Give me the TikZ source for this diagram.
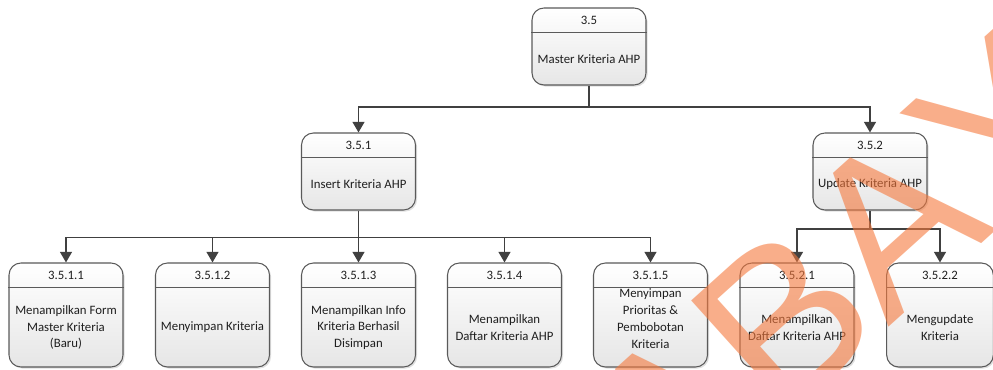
\documentclass[tikz,border=0pt]{standalone}
\usepackage{fontspec}
\setmainfont{Carlito}
\newfontfamily\wmfont[Kerning=Off]{Liberation Sans}
\usetikzlibrary{arrows.meta,shadows,calc}

\definecolor{linegray}{HTML}{404040}
\definecolor{boxedge}{HTML}{5A5A5A}
\definecolor{boxbottom}{HTML}{E6E6E6}
\definecolor{wmorange}{RGB}{245,120,60}

% process box: name, x, y (centre), style, number, label, label shift
\newcommand{\procnode}[7]{%
  \node[#4] (#1) at (#2,#3) {};
  \draw[divider] ([yshift=-18.75pt]#1.north west) -- ([yshift=-18.75pt]#1.north east);
  \node[idtext] (#1-id) at ([yshift=-9.4pt]#1.north) {#5};
  \node[bodytext] (#1-tx) at ($ ([yshift=#7]#1.south)!0.5!([yshift=#7-18.75pt]#1.north) $) {#6};
}

\begin{document}
\begin{tikzpicture}[x=0.75pt,y=-0.75pt,
  procbox/.style={draw=boxedge, line width=0.8pt, rounded corners=9pt,
    top color=white, bottom color=boxbottom, minimum width=85.5pt, inner sep=0pt,
    drop shadow={shadow xshift=1.2pt, shadow yshift=-1.2pt, opacity=0.25}},
  midbox/.style={procbox, minimum height=57.75pt},
  leafbox/.style={procbox, minimum height=78pt},
  divider/.style={draw=boxedge, line width=0.8pt},
  idtext/.style={font=\fontsize{9.6}{12}\selectfont, text=black!88},
  bodytext/.style={font=\fontsize{9.6}{12.6}\selectfont, align=center, text=black!88},
  wire/.style={draw=linegray, line width=1.1pt},
  conn/.style={wire, -{Triangle[width=9pt,length=8pt]}},
  wmtext/.style={font=\wmfont\fontsize{165}{165}\selectfont, text=wmorange,
    text opacity=0.6, rotate=42, inner sep=0pt},
]
\useasboundingbox (0,0) rectangle (993,370);

% levels
\procnode{p35}{589}{46.5}{midbox}{3.5}{Master Kriteria AHP}{0pt}
\procnode{p351}{358.5}{171.5}{midbox}{3.5.1}{Insert Kriteria AHP}{0pt}
\procnode{p352}{870}{171.5}{midbox}{3.5.2}{Update Kriteria AHP}{0pt}

\procnode{p3511}{66}{315}{leafbox}{3.5.1.1}{Menampilkan Form\\Master Kriteria\\(Baru)}{0pt}
\procnode{p3512}{212.5}{315}{leafbox}{3.5.1.2}{Menyimpan Kriteria}{0pt}
\procnode{p3513}{358.5}{315}{leafbox}{3.5.1.3}{Menampilkan Info\\Kriteria Berhasil\\Disimpan}{0pt}
\procnode{p3514}{504.5}{315}{leafbox}{3.5.1.4}{Menampilkan\\Daftar Kriteria AHP}{0pt}
\procnode{p3515}{650.5}{315}{leafbox}{3.5.1.5}{Menyimpan\\Prioritas \&\\Pembobotan\\Kriteria}{6.75pt}
\procnode{p3521}{797}{315}{leafbox}{3.5.2.1}{Menampilkan\\Daftar Kriteria AHP}{0pt}
\procnode{p3522}{940}{315}{leafbox, minimum width=80pt}{3.5.2.2}{Mengupdate\\Kriteria}{0pt}

% bus heights
\coordinate (busTop) at (0,107);
\coordinate (busLeft) at (0,237.5);
\coordinate (busRight) at (0,229);

% connectors
\draw[wire] (p35.south) -- (p35.south |- busTop);
\draw[conn] (p35.south |- busTop) -| (p351.north);
\draw[conn] (p35.south |- busTop) -| (p352.north);

\draw[wire] (p351.south) -- (p351.south |- busLeft);
\foreach \leaf in {p3511,p3512,p3513,p3514,p3515}
  \draw[conn] (p351.south |- busLeft) -| (\leaf.north);

\draw[wire] (p352.south) -- (p352.south |- busRight);
\foreach \leaf in {p3521,p3522}
  \draw[conn] (p352.south |- busRight) -| (\leaf.north);

% watermark lettering over the chart
\node[wmtext] (wm) at (892,222) {ABAYA};
\end{tikzpicture}
\end{document}
